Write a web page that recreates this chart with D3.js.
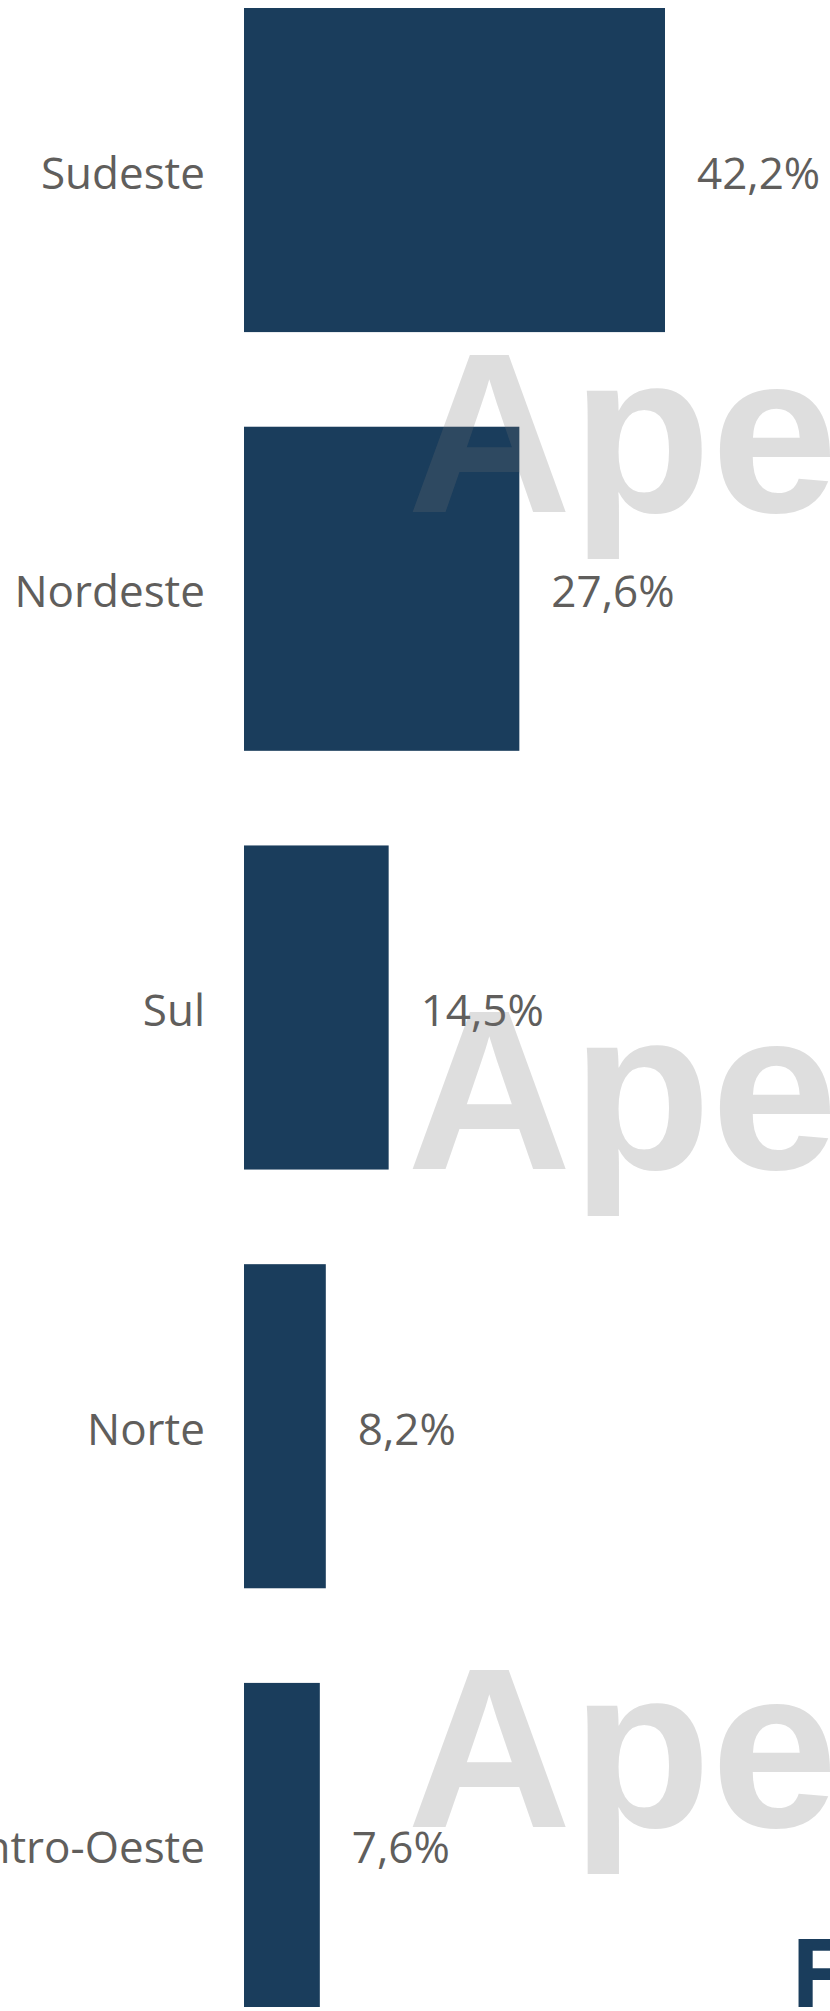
<!DOCTYPE html>
<html>
<head>
<meta charset="utf-8">
<script src="https://cdn.jsdelivr.net/npm/d3@7"></script>
<style>
  html, body { margin: 0; padding: 0; background: #ffffff; overflow: hidden; }
  #chart svg { display: block; }
</style>
</head>
<body>
<div id="chart"></div>
<script>
// data
const regioes = ["Sudeste", "Nordeste", "Sul", "Norte", "Centro-Oeste"];
const participacao = [42.2, 27.6, 14.5, 8.2, 7.6];
const rotulos = ["42,2%", "27,6%", "14,5%", "8,2%", "7,6%"];

const width = 830;
const height = 2011;

const svg = d3.select("#chart")
  .append("svg")
  .attr("width", width)
  .attr("height", height)
  .style("background-color", "#ffffff");

// scales
const y = d3.scaleBand()
  .domain(regioes)
  .range([8, 2007])
  .paddingInner(0.226)
  .paddingOuter(0);

const x = d3.scaleLinear()
  .domain([0, d3.max(participacao)])
  .range([244, 665]);

const rows = regioes.map((r, i) => ({ regiao: r, valor: participacao[i], rotulo: rotulos[i] }));

// bars
svg.selectAll("rect.bar")
  .data(rows)
  .join("rect")
  .attr("class", "bar")
  .attr("x", x(0))
  .attr("y", d => y(d.regiao))
  .attr("width", d => x(d.valor) - x(0))
  .attr("height", y.bandwidth())
  .attr("fill", "#1a3d5c");

// category labels
const fs = 44;
svg.selectAll("text.cat")
  .data(rows)
  .join("text")
  .attr("class", "cat")
  .attr("x", 205)
  .attr("y", d => y(d.regiao) + y.bandwidth() / 2 + fs * 0.42)
  .attr("text-anchor", "end")
  .attr("font-family", "'Segoe UI', 'Open Sans', sans-serif")
  .attr("font-size", fs + "px")
  .attr("fill", "#605e5c")
  .text(d => d.regiao);

// value labels
svg.selectAll("text.val")
  .data(rows)
  .join("text")
  .attr("class", "val")
  .attr("x", d => x(d.valor) + 32)
  .attr("y", d => y(d.regiao) + y.bandwidth() / 2 + fs * 0.42)
  .attr("font-family", "'Segoe UI', 'Open Sans', sans-serif")
  .attr("font-size", fs + "px")
  .attr("fill", "#605e5c")
  .text(d => d.rotulo);

// watermark
[512, 1169, 1827].forEach(b => {
  svg.append("text")
    .attr("x", 407)
    .attr("y", b)
    .attr("font-family", "'Liberation Sans', Arial, sans-serif")
    .attr("font-weight", "bold")
    .attr("font-size", "228px")
    .attr("fill", "#737373")
    .attr("fill-opacity", 0.235)
    .text("Apenas");
});

// logo letter, bottom right
svg.append("text")
  .attr("x", 790)
  .attr("y", 2007)
  .attr("font-family", "'Open Sans', sans-serif")
  .attr("font-weight", "bold")
  .attr("font-size", "95px")
  .attr("fill", "#1a3d5c")
  .text("F");
</script>
</body>
</html>
